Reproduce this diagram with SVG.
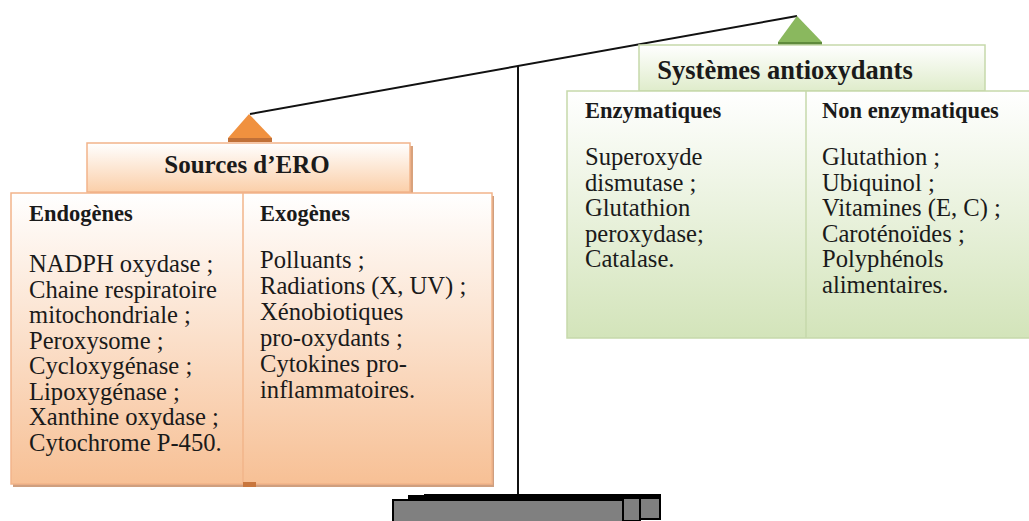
<svg xmlns="http://www.w3.org/2000/svg" width="1029" height="521" viewBox="0 0 1029 521">
<defs>
<linearGradient id="gOr" x1="0" y1="0" x2="0" y2="1"><stop offset="0" stop-color="#ffffff"/><stop offset="1" stop-color="#f7c095"/></linearGradient>
<linearGradient id="gOrH" x1="0" y1="0" x2="0" y2="1"><stop offset="0" stop-color="#ffffff"/><stop offset="1" stop-color="#fbcfa9"/></linearGradient>
<linearGradient id="gGr" x1="0" y1="0" x2="0" y2="1"><stop offset="0" stop-color="#ffffff"/><stop offset="1" stop-color="#d3e4ba"/></linearGradient>
<linearGradient id="gGrH" x1="0" y1="0" x2="0" y2="1"><stop offset="0" stop-color="#ffffff"/><stop offset="1" stop-color="#dfeccb"/></linearGradient>
<style>
.t{font-family:"Liberation Serif","Times New Roman",serif;fill:#1a1a1a}
.b{font-size:22.5px;font-weight:bold}
.h{font-size:25px;font-weight:bold}
.h2{font-size:26.5px;font-weight:bold}
.r{font-size:24.6px}
.ob{stroke:#f2b48a;stroke-width:1.5}
.gb{stroke:#c6d9ab;stroke-width:1.5}
.ln{stroke:#111;stroke-width:2;fill:none}
.base{fill:#808080;stroke:#000;stroke-width:2}
</style>
</defs>
<g id="connectors">
<line class="ln" x1="250" y1="114" x2="797" y2="16"/>
<line class="ln" x1="518" y1="66" x2="518" y2="496"/>
</g>
<g id="stand">
<rect class="base" x="425" y="495" width="235" height="24"/>
<rect class="base" x="410" y="497" width="230" height="24"/>
<rect class="base" x="393" y="500" width="230" height="24"/>
<rect x="408" y="495" width="252" height="4" fill="#000"/>
</g>
<g id="sources">
<polygon points="249,114 228,138 272,138" fill="#f0913f"/>
<rect x="228" y="138" width="44" height="4" fill="#c07038"/>
<rect x="90" y="146" width="323" height="49" fill="#d9a27c"/>
<rect class="ob" x="87" y="143" width="323" height="49" fill="url(#gOrH)"/>
<text class="t h" x="247" y="173" text-anchor="middle">Sources d’ERO</text>
</g>
<g id="ero-box">
<rect x="13" y="196" width="481" height="291" fill="#cf9f7f"/>
<rect class="ob" x="11" y="193" width="481" height="291" fill="url(#gOr)"/>
<line x1="243" y1="193" x2="243" y2="484" stroke="#f2b48a" stroke-width="1.5"/>
<rect x="243" y="482" width="13" height="5" fill="#c8763d"/>
</g>
<g id="endogenes">
<text class="t b" x="29" y="221">Endogènes</text>
<text class="t r" x="29" y="272">NADPH oxydase ;</text>
<text class="t r" x="29" y="297.5">Chaine respiratoire</text>
<text class="t r" x="29" y="323">mitochondriale ;</text>
<text class="t r" x="29" y="348.5">Peroxysome ;</text>
<text class="t r" x="29" y="374">Cycloxygénase ;</text>
<text class="t r" x="29" y="399.5">Lipoxygénase ;</text>
<text class="t r" x="29" y="425">Xanthine oxydase ;</text>
<text class="t r" x="29" y="450.5">Cytochrome P-450.</text>
</g>
<g id="exogenes">
<text class="t b" x="260" y="221">Exogènes</text>
<text class="t r" x="260" y="268">Polluants ;</text>
<text class="t r" x="260" y="294">Radiations (X, UV) ;</text>
<text class="t r" x="260" y="320">Xénobiotiques</text>
<text class="t r" x="260" y="346">pro-oxydants ;</text>
<text class="t r" x="260" y="372">Cytokines pro-</text>
<text class="t r" x="260" y="398">inflammatoires.</text>
</g>
<g id="antioxydants">
<polygon points="797,16 778,42 822,42" fill="#8ab85e"/>
<rect x="778" y="42" width="44" height="4" fill="#5f8a3c"/>
<rect class="gb" x="639" y="45" width="346" height="46" fill="url(#gGrH)"/>
<text class="t h2" x="785" y="79" text-anchor="middle">Systèmes antioxydants</text>
</g>
<g id="anti-box">
<rect class="gb" x="567" y="91" width="464" height="247" fill="url(#gGr)"/>
<line x1="806" y1="91" x2="806" y2="338" stroke="#c6d9ab" stroke-width="1.5"/>
</g>
<g id="enzymatiques">
<text class="t b" x="585" y="118">Enzymatiques</text>
<text class="t r" x="585" y="165">Superoxyde</text>
<text class="t r" x="585" y="190.5">dismutase ;</text>
<text class="t r" x="585" y="216">Glutathion</text>
<text class="t r" x="585" y="241.5">peroxydase;</text>
<text class="t r" x="585" y="267">Catalase.</text>
</g>
<g id="non-enzymatiques">
<text class="t b" x="822" y="118">Non enzymatiques</text>
<text class="t r" x="822" y="165">Glutathion ;</text>
<text class="t r" x="822" y="190.5">Ubiquinol ;</text>
<text class="t r" x="822" y="216">Vitamines (E, C) ;</text>
<text class="t r" x="822" y="241.5">Caroténoïdes ;</text>
<text class="t r" x="822" y="267">Polyphénols</text>
<text class="t r" x="822" y="292.5">alimentaires.</text>
</g>
</svg>
